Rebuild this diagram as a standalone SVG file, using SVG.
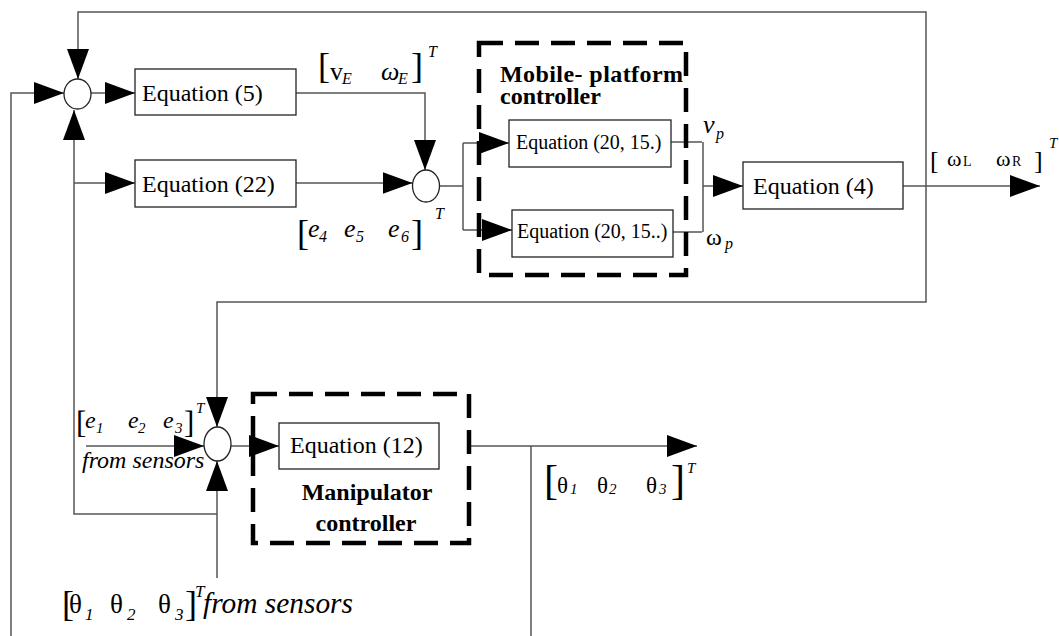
<svg xmlns="http://www.w3.org/2000/svg" width="1059" height="636" viewBox="0 0 1059 636">
<style>
.conn{fill:none;stroke:#555;stroke-width:1.5}
.box{fill:#fff;stroke:#222;stroke-width:1.3}
.dash{fill:none;stroke:#000;stroke-width:4.5;stroke-dasharray:24 12}
.sum{fill:#fff;stroke:#222;stroke-width:1.3}
text{fill:#000}
.eq{font-size:24px}
.eqs{font-size:20px}
.bold{font-size:24px;font-weight:bold}
.it{font-style:italic}
</style>
<defs>
<marker id="arr" markerUnits="userSpaceOnUse" markerWidth="30" markerHeight="22" viewBox="0 0 30 22" refX="30" refY="11" orient="auto">
<path d="M0,0 L30,11 L0,22 z" fill="#000"/>
</marker>
</defs>
<rect width="1059" height="636" fill="#fff"/>

<g id="connectors">
<path class="conn" d="M926,186 V12 H78 V79" marker-end="url(#arr)"/>
<path class="conn" d="M926,186 V302 H217 V427" marker-end="url(#arr)"/>
<path class="conn" d="M11,636 V93 H64" marker-end="url(#arr)"/>
<path class="conn" d="M217,514 H74 V110" marker-end="url(#arr)"/>
<path class="conn" d="M74,183 H135" marker-end="url(#arr)"/>
<path class="conn" d="M91,93 H135" marker-end="url(#arr)"/>
<path class="conn" d="M296,93 H425 V170" marker-end="url(#arr)"/>
<path class="conn" d="M296,183 H412.5" marker-end="url(#arr)"/>
<path class="conn" d="M439.5,186 H463"/>
<path class="conn" d="M463,143 V230"/>
<path class="conn" d="M463,143 H509" marker-end="url(#arr)"/>
<path class="conn" d="M463,230 H512" marker-end="url(#arr)"/>
<path class="conn" d="M671,142 H702"/>
<path class="conn" d="M673,232 H702"/>
<path class="conn" d="M703,142 V232"/>
<path class="conn" d="M703,186 H743" marker-end="url(#arr)"/>
<path class="conn" d="M903,186 H1040" marker-end="url(#arr)"/>
<path class="conn" d="M86,446 H204" marker-end="url(#arr)"/>
<path class="conn" d="M217,578 V461" marker-end="url(#arr)"/>
<path class="conn" d="M231,446 H279" marker-end="url(#arr)"/>
<path class="conn" d="M469,446 H697" marker-end="url(#arr)"/>
<path class="conn" d="M531,446 V636"/>
</g>

<g font-family="Liberation Serif, Times New Roman, serif">
<g id="sum1"><ellipse class="sum" cx="77.5" cy="94" rx="13.5" ry="15"/></g>
<g id="sum2"><ellipse class="sum" cx="426" cy="186" rx="13.5" ry="16"/></g>
<g id="sum3"><ellipse class="sum" cx="217.5" cy="444" rx="13.5" ry="17"/></g>

<g id="eq5"><rect class="box" x="135" y="69" width="161" height="46"/><text class="eq" x="142" y="101">Equation (5)</text></g>
<g id="eq22"><rect class="box" x="135" y="160" width="161" height="47"/><text class="eq" x="142" y="192">Equation (22)</text></g>

<g id="mobile-controller">
<rect class="dash" x="479" y="43" width="207" height="232"/>
<text class="bold" x="500" y="82" textLength="183" lengthAdjust="spacing">Mobile- platform</text>
<text class="bold" x="500" y="104">controller</text>
</g>
<g id="eq20a"><rect class="box" x="509" y="120" width="162" height="47"/><text class="eqs" x="516" y="149">Equation (20, 15.)</text></g>
<g id="eq20b"><rect class="box" x="512" y="210" width="161" height="47"/><text class="eqs" x="517" y="238">Equation (20, 15..)</text></g>
<g id="eq4"><rect class="box" x="743" y="162" width="160" height="47"/><text class="eq" x="753" y="194">Equation (4)</text></g>

<g id="manipulator-controller">
<rect class="dash" x="253" y="394" width="216" height="149"/>
<text class="bold" x="367" y="500" text-anchor="middle">Manipulator</text>
<text class="bold" x="366" y="531" text-anchor="middle">controller</text>
</g>
<g id="eq12"><rect class="box" x="279" y="423" width="160" height="46"/><text class="eq" x="290" y="453">Equation (12)</text></g>

<g id="label-vE">
<text x="318" y="78" font-size="36">[</text>
<text x="330" y="80" font-size="26">v</text>
<text x="342" y="84" font-size="16" class="it">E</text>
<text x="381" y="80" font-size="26" class="it">ω</text>
<text x="398" y="84" font-size="16" class="it">E</text>
<text x="411" y="78" font-size="36">]</text>
<text x="428" y="57" font-size="16" class="it">T</text>
</g>

<g id="label-e456">
<text x="297" y="245" font-size="36">[</text>
<text x="308" y="237" font-size="26" class="it">e</text>
<text x="319" y="242" font-size="16" class="it">4</text>
<text x="344" y="237" font-size="26" class="it">e</text>
<text x="356" y="242" font-size="16" class="it">5</text>
<text x="388" y="237" font-size="26" class="it">e</text>
<text x="401" y="242" font-size="16" class="it">6</text>
<text x="411" y="245" font-size="36">]</text>
<text x="435" y="219" font-size="16" class="it">T</text>
</g>

<g id="label-vp">
<text x="703" y="133" font-size="26" class="it">v</text>
<text x="716" y="139" font-size="16" class="it">p</text>
</g>
<g id="label-wp">
<text x="706" y="245" font-size="24">ω</text>
<text x="725" y="249" font-size="16" class="it">p</text>
</g>

<g id="label-wLR">
<text x="930" y="169" font-size="26">[</text>
<text x="947" y="166" font-size="22">ω</text>
<text x="963" y="166" font-size="14">L</text>
<text x="996" y="166" font-size="22">ω</text>
<text x="1012" y="166" font-size="14">R</text>
<text x="1034" y="169" font-size="26">]</text>
<text x="1049" y="148" font-size="15" class="it">T</text>
</g>

<g id="label-e123">
<text x="76" y="433" font-size="31">[</text>
<text x="85" y="428" font-size="24" class="it">e</text>
<text x="96" y="433" font-size="15" class="it">1</text>
<text x="128" y="428" font-size="24" class="it">e</text>
<text x="138" y="433" font-size="15" class="it">2</text>
<text x="163" y="428" font-size="24" class="it">e</text>
<text x="175" y="433" font-size="15" class="it">3</text>
<text x="184" y="433" font-size="31">]</text>
<text x="196" y="413" font-size="15" class="it">T</text>
<text x="82" y="468" font-size="24" class="it">from sensors</text>
</g>

<g id="label-theta-out">
<text x="544" y="494" font-size="42">[</text>
<text x="557" y="493" font-size="23">θ</text>
<text x="570" y="494" font-size="15" class="it">1</text>
<text x="597" y="493" font-size="23">θ</text>
<text x="609" y="494" font-size="15" class="it">2</text>
<text x="646" y="493" font-size="23">θ</text>
<text x="659" y="494" font-size="15" class="it">3</text>
<text x="671" y="494" font-size="42">]</text>
<text x="687" y="473" font-size="15" class="it">T</text>
</g>

<g id="label-theta-in">
<text x="62" y="616" font-size="36">[</text>
<text x="69" y="613" font-size="27">θ</text>
<text x="85" y="620" font-size="17" class="it">1</text>
<text x="110" y="613" font-size="27">θ</text>
<text x="127" y="620" font-size="17" class="it">2</text>
<text x="158" y="613" font-size="27">θ</text>
<text x="175" y="620" font-size="17" class="it">3</text>
<text x="185" y="616" font-size="36">]</text>
<text x="195" y="597" font-size="17" class="it">T</text>
<text x="203" y="613" font-size="29" class="it" textLength="150" lengthAdjust="spacingAndGlyphs">from sensors</text>
</g>
</g>
</svg>
